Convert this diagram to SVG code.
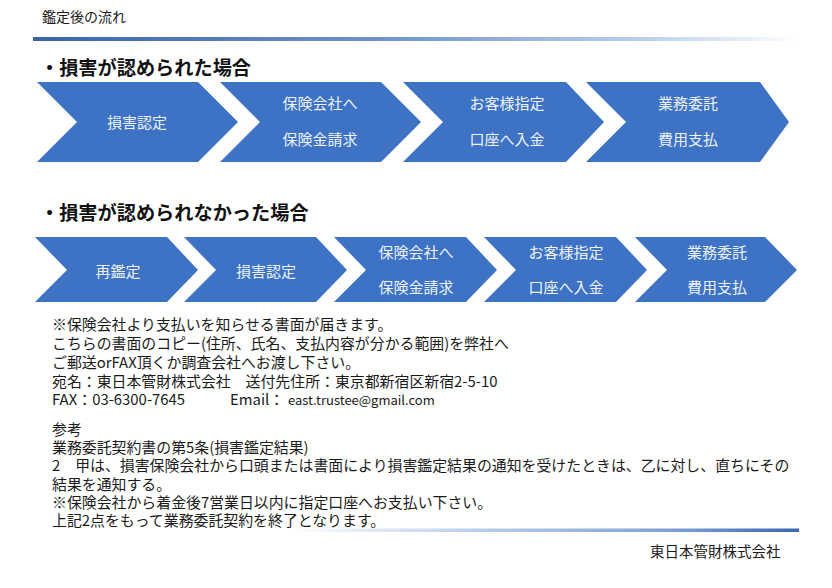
<svg xmlns="http://www.w3.org/2000/svg" width="832" height="588" viewBox="0 0 832 588">
<defs>
<linearGradient id="ruleTop" x1="0" x2="1" y1="0" y2="0">
<stop offset="0" stop-color="#3a63b0"/>
<stop offset="0.45" stop-color="#6e92cd"/>
<stop offset="0.8" stop-color="#bcd0ec"/>
<stop offset="1" stop-color="#ffffff"/>
</linearGradient>
<linearGradient id="ruleBot" x1="0" x2="1" y1="0" y2="0">
<stop offset="0" stop-color="#ffffff"/>
<stop offset="0.35" stop-color="#bcd0ec"/>
<stop offset="0.75" stop-color="#7fa0d6"/>
<stop offset="1" stop-color="#3a66b4"/>
</linearGradient>
<style>
.chev{fill:#3d72c4}
.ct{font-family:"Noto Sans CJK JP","Noto Sans",sans-serif;font-size:15px;fill:#eef3fa;text-anchor:middle}
.h{font-family:"Noto Sans CJK JP","Noto Sans",sans-serif;font-size:19.2px;font-weight:700;fill:#111}
.t{font-family:"Noto Sans CJK JP","Noto Sans",sans-serif;font-size:14.9px;fill:#1a1a1a}
.title{font-family:"Noto Sans CJK JP","Noto Sans",sans-serif;font-size:14px;fill:#1a1a1a}
</style>
</defs>
<rect width="832" height="588" fill="#ffffff"/>

<g id="header">
<text class="title" x="42" y="22">鑑定後の流れ</text>
<rect x="33" y="37" width="767" height="4" fill="url(#ruleTop)"/>
<text class="h" x="40" y="75">・損害が認められた場合</text>
</g>

<g id="row1">
<g id="r1n1">
<polygon class="chev" points="37,82 198,82 238,122 198,162 37,162 77,122"/>
<text class="ct" x="137" y="128">損害認定</text>
</g>
<g id="r1n2">
<polygon class="chev" points="220,82 381,82 421,122 381,162 220,162 260,122"/>
<text class="ct" x="320" y="108.5">保険会社へ</text>
<text class="ct" x="320" y="145">保険金請求</text>
</g>
<g id="r1n3">
<polygon class="chev" points="403,82 566,82 604,122 566,162 403,162 443,122"/>
<text class="ct" x="507" y="108.5">お客様指定</text>
<text class="ct" x="507" y="145">口座へ入金</text>
</g>
<g id="r1n4">
<polygon class="chev" points="586,82 760,82 789,122 760,162 586,162 626,122"/>
<text class="ct" x="688" y="108.5">業務委託</text>
<text class="ct" x="688" y="145">費用支払</text>
</g>
</g>

<g id="heading2">
<text class="h" x="40" y="220">・損害が認められなかった場合</text>
</g>

<g id="row2">
<g id="r2n1">
<polygon class="chev" points="35,237 167,237 198,270 167,302 35,302 67,270"/>
<text class="ct" x="118" y="276.5">再鑑定</text>
</g>
<g id="r2n2">
<polygon class="chev" points="184,237 316,237 347,270 316,302 184,302 216,270"/>
<text class="ct" x="266" y="276.5">損害認定</text>
</g>
<g id="r2n3">
<polygon class="chev" points="334,237 466,237 497,270 466,302 334,302 366,270"/>
<text class="ct" x="416" y="257.5">保険会社へ</text>
<text class="ct" x="416" y="292.5">保険金請求</text>
</g>
<g id="r2n4">
<polygon class="chev" points="484,237 616,237 647,270 616,302 484,302 516,270"/>
<text class="ct" x="566" y="257.5">お客様指定</text>
<text class="ct" x="566" y="292.5">口座へ入金</text>
</g>
<g id="r2n5">
<polygon class="chev" points="635,237 765,237 797,270 765,302 635,302 667,270"/>
<text class="ct" x="717" y="257.5">業務委託</text>
<text class="ct" x="717" y="292.5">費用支払</text>
</g>
</g>

<g id="connectors"></g>

<g id="notes">
<text class="t" x="52" y="329.5"><tspan x="52" y="329.5">※保険会社より支払いを知らせる書面が届きます。</tspan><tspan x="52" y="348.5">こちらの書面のコピー(住所、氏名、支払内容が分かる範囲)を弊社へ</tspan><tspan x="52" y="367.5">ご郵送orFAX頂くか調査会社へお渡し下さい。</tspan><tspan x="52" y="386.5">宛名：東日本管財株式会社　送付先住所：東京都新宿区新宿2-5-10</tspan><tspan x="52" y="405">FAX：03-6300-7645</tspan><tspan x="230" y="405">Email：</tspan><tspan x="288" y="405" style="font-size:13px">east.trustee@gmail.com</tspan></text>
</g>

<g id="reference">
<text class="t" x="52" y="435"><tspan x="52" y="435">参考</tspan><tspan x="52" y="453.2">業務委託契約書の第5条(損害鑑定結果)</tspan><tspan x="52" y="471.4">2　甲は、損害保険会社から口頭または書面により損害鑑定結果の通知を受けたときは、乙に対し、直ちにその</tspan><tspan x="52" y="489.6">結果を通知する。</tspan><tspan x="52" y="507.8">※保険会社から着金後7営業日以内に指定口座へお支払い下さい。</tspan><tspan x="52" y="525.5">上記2点をもって業務委託契約を終了となります。</tspan></text>
</g>

<g id="footer">
<rect x="290" y="528.5" width="509" height="3.5" fill="url(#ruleBot)"/>
<text class="t" x="650" y="557" style="font-size:14.5px">東日本管財株式会社</text>
</g>
</svg>
